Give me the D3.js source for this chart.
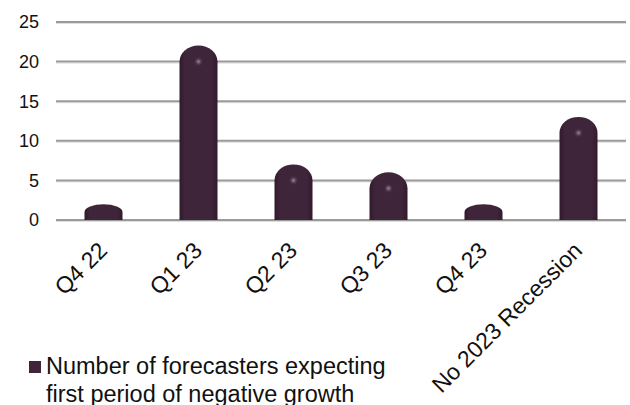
<!DOCTYPE html>
<html>
<head>
<meta charset="utf-8">
<script src="https://cdn.jsdelivr.net/npm/d3@7"></script>
<style>
  body { margin: 0; background: #fff; }
  svg text { font-family: "Liberation Sans", Arial, sans-serif; fill: #111; }
</style>
</head>
<body>
<svg id="chart" width="630" height="405"></svg>
<script>
const categories = ["Q4 22", "Q1 23", "Q2 23", "Q3 23", "Q4 23", "No 2023 Recession"];
const forecasters = [1, 20, 5, 4, 1, 11];
const yTicks = [0, 5, 10, 15, 20, 25];
const legendLines = ["Number of forecasters expecting", "first period of negative growth"];

const width = 630, height = 405;
const plotLeft = 56, plotRight = 626, plotTop = 22, plotBottom = 220;

const svg = d3.select("#chart");

const x = d3.scaleBand().domain(categories).range([plotLeft, plotRight])
  .paddingInner(0.6).paddingOuter(0.3);
const y = d3.scaleLinear().domain([0, 25]).range([plotBottom, plotTop]);

const defs = svg.append("defs");
// bar shading, a little darker on the sides
const grad = defs.append("linearGradient").attr("id", "barGrad");
grad.append("stop").attr("offset", "0%").attr("stop-color", "#33192c");
grad.append("stop").attr("offset", "15%").attr("stop-color", "#3f2539");
grad.append("stop").attr("offset", "85%").attr("stop-color", "#3f2539");
grad.append("stop").attr("offset", "100%").attr("stop-color", "#33192c");
const spot = defs.append("radialGradient").attr("id", "spot");
spot.append("stop").attr("offset", "0%").attr("stop-color", "#a58aa0");
spot.append("stop").attr("offset", "100%").attr("stop-color", "#3f2539").attr("stop-opacity", 0);

// gridlines
const grid = svg.append("g");
grid.selectAll("line.shadow").data(yTicks).enter().append("line")
  .attr("class", "shadow")
  .attr("x1", plotLeft).attr("x2", plotRight)
  .attr("y1", d => y(d) + 1.5).attr("y2", d => y(d) + 1.5)
  .attr("stroke", "#dedede").attr("stroke-width", 1);
grid.selectAll("line.main").data(yTicks).enter().append("line")
  .attr("class", "main")
  .attr("x1", plotLeft).attr("x2", plotRight)
  .attr("y1", d => y(d)).attr("y2", d => y(d))
  .attr("stroke", "#9a9a9a").attr("stroke-width", 2);

// y labels
svg.append("g").selectAll("text").data(yTicks).enter().append("text")
  .attr("x", 39).attr("y", d => y(d))
  .attr("dy", "0.36em")
  .attr("text-anchor", "end")
  .attr("font-size", 18)
  .text(d => d);

// rounded top bars: cap is half an ellipse sitting on the value
function barPath(d, i) {
  const x0 = x(categories[i]), w = x.bandwidth();
  const rx = w / 2;
  const y0 = y(0), yv = y(d);
  const ry = Math.min(16, y0 - yv);
  return `M${x0},${y0} L${x0},${yv} A${rx},${ry} 0 0 1 ${x0 + w},${yv} L${x0 + w},${y0} Z`;
}

const bars = svg.append("g");
bars.selectAll("path").data(forecasters).enter().append("path")
  .attr("d", barPath)
  .attr("fill", "url(#barGrad)");

bars.selectAll("circle").data(forecasters).enter().append("circle")
  .attr("cx", (d, i) => x(categories[i]) + x.bandwidth() / 2)
  .attr("cy", d => y(d))
  .attr("r", d => d > 2 ? 5 : 0)
  .attr("fill", "url(#spot)");

// x labels, rotated, text end just under the bar
svg.append("g").selectAll("text").data(categories).enter().append("text")
  .attr("transform", d => `translate(${x(d) + x.bandwidth() / 2 + 5},${252}) rotate(-45)`)
  .attr("text-anchor", "end")
  .attr("font-size", 23)
  .text(d => d);

// legend
const legend = svg.append("g");
legend.append("rect")
  .attr("x", 29).attr("y", 361).attr("width", 12).attr("height", 12)
  .attr("fill", "#3f2539");
legend.selectAll("text").data(legendLines).enter().append("text")
  .attr("x", 46).attr("y", (d, i) => 374 + i * 27.5)
  .attr("font-size", 23.5)
  .text(d => d);
</script>
</body>
</html>
